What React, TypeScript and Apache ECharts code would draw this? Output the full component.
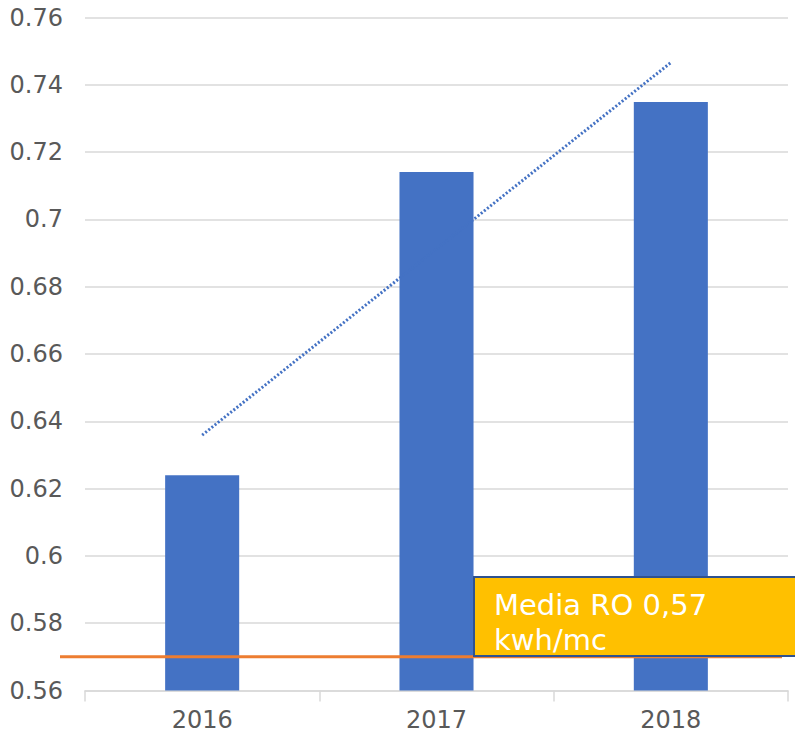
import React, { useEffect, useRef } from "react";
import * as echarts from "echarts";

const years = ["2016", "2017", "2018"];
const consumption = [0.624, 0.7141, 0.7349];
const trendValues: (number | null)[] = [0.6359, null, 0.7466];
const averageValue = 0.57;
const averageLabel = "Media RO 0,57\nkwh/mc";
const yMin = 0.56;
const yMax = 0.76;
const yStep = 0.02;

const FONT = "DejaVu Sans";

export default function App() {
  const ref = useRef<HTMLDivElement>(null);
  useEffect(() => {
    document.body.style.margin = "0";
    const chart = echarts.init(ref.current!, null, { renderer: "svg" });
    chart.setOption({
      animation: false,
      grid: { left: 85, right: 7, top: 17.5, bottom: 46.5 },
      xAxis: {
        type: "category",
        data: years,
        axisLine: { show: true, lineStyle: { color: "#d9d9d9", width: 1.5 } },
        axisTick: { show: true, length: 11, lineStyle: { color: "#d9d9d9", width: 1.5 } },
        axisLabel: { color: "#595959", fontSize: 24, fontFamily: FONT, margin: 17 },
        splitLine: { show: false },
      },
      yAxis: {
        type: "value",
        min: yMin,
        max: yMax,
        interval: yStep,
        axisLine: { show: false },
        axisTick: { show: false },
        axisLabel: { color: "#595959", fontSize: 24, fontFamily: FONT, margin: 22 },
        splitLine: { show: true, lineStyle: { color: "#d9d9d9", width: 1.5 } },
      },
      series: [
        {
          type: "bar",
          data: consumption,
          barWidth: "31.6%",
          itemStyle: { color: "#4472C4" },
        },
        {
          type: "line",
          data: trendValues,
          connectNulls: true,
          symbol: "none",
          lineStyle: { color: "#4472C4", width: 3, type: [2, 2] },
          z: 3,
        },
      ],
    });
    const yPix = chart.convertToPixel({ yAxisIndex: 0 }, averageValue) as number;
    chart.setOption({
      graphic: [
        {
          type: "line",
          z: 10,
          shape: { x1: 60, y1: yPix, x2: 782, y2: yPix },
          style: { stroke: "#ED7D31", lineWidth: 3 },
        },
        {
          type: "rect",
          z: 11,
          shape: { x: 474, y: 577, width: 340, height: 79 },
          style: { fill: "#FFC000", stroke: "#2F528F", lineWidth: 2 },
        },
        {
          type: "text",
          z: 12,
          x: 494,
          y: 587,
          style: {
            text: averageLabel,
            fill: "#ffffff",
            font: `29px '${FONT}'`,
            lineHeight: 35,
            verticalAlign: "top",
            align: "left",
          },
        },
      ],
    });
    return () => chart.dispose();
  }, []);
  return <div ref={ref} style={{ width: 795, height: 737 }} />;
}
